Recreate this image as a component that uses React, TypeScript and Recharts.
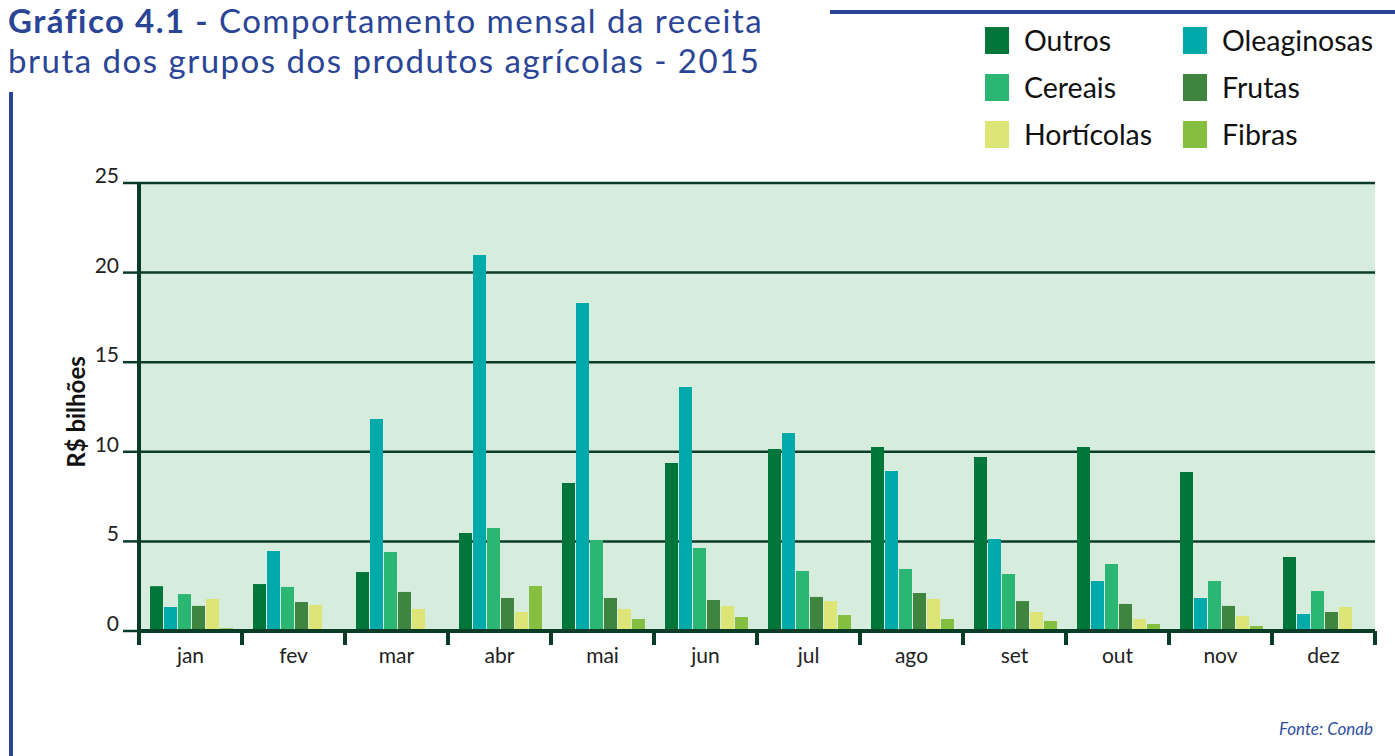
import { BarChart, Bar, XAxis, YAxis, CartesianGrid, Legend } from 'recharts'

// receita bruta mensal por grupo (R$ bilhões)
const months = ['jan', 'fev', 'mar', 'abr', 'mai', 'jun', 'jul', 'ago', 'set', 'out', 'nov', 'dez']
const outros = [2.5, 2.62, 3.29, 5.47, 8.26, 9.38, 10.16, 10.27, 9.71, 10.27, 8.87, 4.13]
const oleaginosas = [1.34, 4.46, 11.83, 20.98, 18.3, 13.62, 11.05, 8.93, 5.13, 2.79, 1.84, 0.95]
const cereais = [2.06, 2.46, 4.41, 5.75, 5.08, 4.63, 3.35, 3.46, 3.18, 3.74, 2.79, 2.23]
const frutas = [1.4, 1.62, 2.18, 1.84, 1.84, 1.73, 1.9, 2.12, 1.67, 1.51, 1.4, 1.06]
const horticolas = [1.79, 1.45, 1.23, 1.06, 1.23, 1.4, 1.67, 1.79, 1.06, 0.67, 0.84, 1.34]
const fibras = [0.15, 0.02, 0, 2.51, 0.67, 0.78, 0.89, 0.67, 0.56, 0.39, 0.28, 0.1]
const yTicks = [0, 5, 10, 15, 20, 25]

const data = months.map((m, i) => ({
    month: m,
    outros: outros[i],
    oleaginosas: oleaginosas[i],
    cereais: cereais[i],
    frutas: frutas[i],
    horticolas: horticolas[i],
    fibras: fibras[i],
}))

const SERIES = [
    { key: 'outros', name: 'Outros', color: '#00763A' },
    { key: 'oleaginosas', name: 'Oleaginosas', color: '#00AAAA' },
    { key: 'cereais', name: 'Cereais', color: '#2BB673' },
    { key: 'frutas', name: 'Frutas', color: '#3F8540' },
    { key: 'horticolas', name: 'Hortícolas', color: '#DEE577' },
    { key: 'fibras', name: 'Fibras', color: '#86BF3F' },
]

const W = 1395
const H = 756
const PLOT_LEFT = 139
const PLOT_RIGHT = 1375
const PLOT_TOP = 183
const PLOT_BOTTOM = 631
const BAND = (PLOT_RIGHT - PLOT_LEFT) / months.length
const DARK = '#0A3D27'
const BLUE = '#2B4596'
const FONT = 'Lato, "Noto Sans", sans-serif'

const YTick = (props: any) => {
    const { x, y, payload } = props
    return (
        <text x={x} y={y} textAnchor="end" fontSize={21} fill="#222" fontFamily={FONT}>
            {payload.value}
        </text>
    )
}

const XTick = (props: any) => {
    const { x, payload, index } = props
    const last = index === months.length - 1
    return (
        <g>
            <line x1={x - BAND / 2} x2={x - BAND / 2} y1={PLOT_BOTTOM} y2={PLOT_BOTTOM + 14} stroke={DARK} strokeWidth={4} />
            {last && <line x1={x + BAND / 2} x2={x + BAND / 2} y1={PLOT_BOTTOM} y2={PLOT_BOTTOM + 14} stroke={DARK} strokeWidth={4} />}
            <text x={x} y={PLOT_BOTTOM + 32} textAnchor="middle" fontSize={21} fill="#222" fontFamily={FONT}>
                {payload.value}
            </text>
        </g>
    )
}

// legenda em duas colunas, na ordem das séries
const renderLegend = () => (
    <div style={{ display: 'grid', gridTemplateColumns: '198px auto', rowGap: 20, fontFamily: FONT }}>
        {SERIES.map(s => (
            <div key={s.key} style={{ display: 'flex', alignItems: 'center', height: 27 }}>
                <span style={{ width: 24, height: 27, background: s.color, marginRight: 15 }} />
                <span style={{ fontSize: 28.5, color: '#111', lineHeight: '27px' }}>{s.name}</span>
            </div>
        ))}
    </div>
)

export default function App() {
    return (
        <div style={{ position: 'absolute', left: 0, top: 0, width: W, height: H, background: '#fff', fontFamily: FONT }}>
            <div style={{ position: 'absolute', left: 8, top: 0, color: BLUE, fontSize: 33, lineHeight: '40px', letterSpacing: 1.5, whiteSpace: 'nowrap' }}>
                <div><b>Gráfico 4.1 -</b> Comportamento mensal da receita</div>
                <div>bruta dos grupos dos produtos agrícolas - 2015</div>
            </div>
            <div style={{ position: 'absolute', left: 830, top: 10, width: W - 830, height: 4, background: BLUE }} />
            <div style={{ position: 'absolute', left: 9, top: 92, width: 4, height: H - 92, background: BLUE }} />
            <BarChart
                width={W}
                height={H}
                data={data}
                margin={{ top: PLOT_TOP, right: W - PLOT_RIGHT, bottom: H - PLOT_BOTTOM - 40, left: 0 }}
                barCategoryGap={11}
                barGap={1}
            >
                <CartesianGrid vertical={false} stroke={DARK} strokeWidth={2.5} fill="#D6ECDD" />
                <XAxis
                    dataKey="month"
                    height={40}
                    interval={0}
                    tickLine={false}
                    axisLine={{ stroke: DARK, strokeWidth: 4 }}
                    tick={XTick}
                />
                <YAxis
                    width={PLOT_LEFT}
                    domain={[0, 25]}
                    ticks={yTicks}
                    tickSize={16}
                    tickMargin={4}
                    tickLine={{ stroke: DARK, strokeWidth: 2.5 }}
                    axisLine={{ stroke: DARK, strokeWidth: 4 }}
                    tick={YTick}
                    label={{
                        content: () => (
                            <text x={85} y={412} transform="rotate(-90 85 412)" textAnchor="middle" fontSize={24} fontWeight="bold" fill="#111" fontFamily={FONT}>
                                R$ bilhões
                            </text>
                        ),
                    }}
                />
                <Legend
                    layout="horizontal"
                    verticalAlign="middle"
                    align="center"
                    wrapperStyle={{ left: 985, top: 27, width: 410 }}
                    content={renderLegend}
                />
                {SERIES.map(s => (
                    <Bar key={s.key} dataKey={s.key} name={s.name} fill={s.color} isAnimationActive={false} />
                ))}
            </BarChart>
            <div style={{ position: 'absolute', right: 22, top: 718, color: '#3050A0', fontSize: 17, fontStyle: 'italic' }}>
                Fonte: Conab
            </div>
        </div>
    )
}
